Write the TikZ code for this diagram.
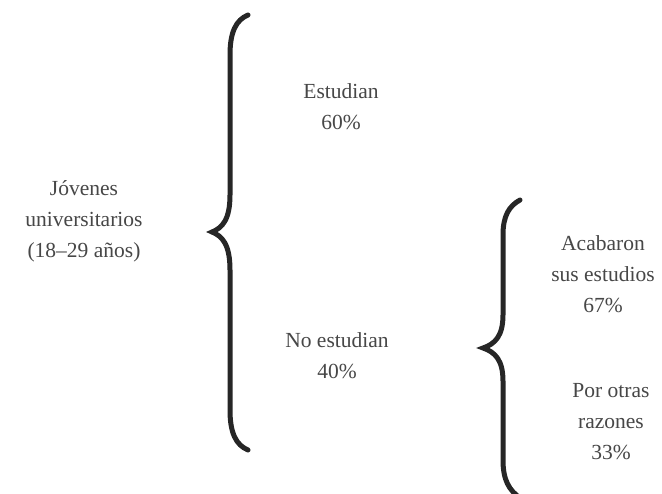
\documentclass[tikz,border=0pt]{standalone}
\usepackage{fontspec}
\setmainfont{Liberation Serif}
\begin{document}
\begin{tikzpicture}[x=1pt,y=-1pt,
  lbl/.style={align=center, text=black!72, font=\fontsize{21.5}{31}\selectfont, inner sep=0pt},
  bracepath/.style={draw=black!85, line width=5pt, line cap=round}]
\useasboundingbox (0,0) rectangle (662,494);
\fill[white] (0,0) rectangle (662,494);

\node[lbl] (root) at (84,221) {Jóvenes\\universitarios\\(18–29 años)};
\node[lbl] (est) at (341,107) {Estudian\\60\%};
\node[lbl] (noest) at (337,356) {No estudian\\40\%};
\node[lbl] (acab) at (603,274) {Acabaron\\sus estudios\\67\%};
\node[lbl] (otras) at (611,422) {Por otras\\razones\\33\%};

\draw[bracepath] (248,15) .. controls (236,20) and (230,32) .. (230,55)
  -- (230,195) .. controls (230,220) and (222,228) .. (212,232)
  .. controls (222,236) and (230,244) .. (230,270)
  -- (230,410) .. controls (230,433) and (236,445) .. (248,450);

\draw[bracepath] (520,200) .. controls (509,206) and (503,216) .. (503,235)
  -- (503,315) .. controls (503,336) and (495,344) .. (483,348)
  .. controls (495,352) and (503,360) .. (503,381)
  -- (503,460) .. controls (503,480) and (509,490) .. (520,498);
\end{tikzpicture}
\end{document}
